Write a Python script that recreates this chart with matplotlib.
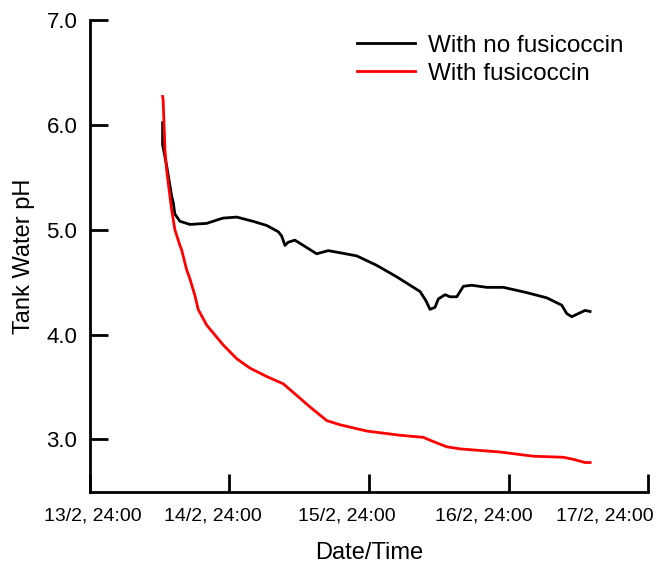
import numpy as np
import matplotlib
matplotlib.use("Agg")
import matplotlib.pyplot as plt

plt.rcParams['font.family'] = ['Liberation Sans', 'DejaVu Sans']

# time in days after 13/2, 24:00
t_no = [0.521, 0.521, 0.550, 0.586, 0.597, 0.609, 0.645, 0.717, 0.837, 0.953,
        1.052, 1.168, 1.267, 1.350, 1.374, 1.398, 1.421, 1.469, 1.529, 1.625,
        1.708, 1.792, 1.912, 2.055, 2.199, 2.366, 2.409, 2.437, 2.473, 2.497,
        2.545, 2.581, 2.629, 2.676, 2.736, 2.844, 2.963, 3.130, 3.274, 3.381,
        3.417, 3.453, 3.500, 3.548, 3.584]
ph_no = [6.02, 5.81, 5.61, 5.32, 5.26, 5.15, 5.08, 5.05, 5.06, 5.11,
         5.12, 5.08, 5.04, 4.98, 4.94, 4.85, 4.88, 4.90, 4.85, 4.77,
         4.80, 4.78, 4.75, 4.66, 4.55, 4.41, 4.32, 4.24, 4.26, 4.34,
         4.38, 4.36, 4.36, 4.46, 4.47, 4.45, 4.45, 4.40, 4.35, 4.28,
         4.20, 4.17, 4.20, 4.23, 4.22]

t_fc = [0.521, 0.525, 0.538, 0.550, 0.561, 0.586, 0.609, 0.645, 0.657, 0.693,
        0.717, 0.753, 0.776, 0.837, 0.956, 1.052, 1.147, 1.267, 1.386, 1.482,
        1.577, 1.697, 1.792, 1.984, 2.222, 2.389, 2.461, 2.557, 2.652, 2.939,
        3.178, 3.393, 3.465, 3.548, 3.584]
ph_fc = [6.27, 6.24, 5.76, 5.57, 5.45, 5.19, 5.00, 4.85, 4.81, 4.62,
         4.53, 4.37, 4.24, 4.09, 3.90, 3.77, 3.68, 3.60, 3.53, 3.42,
         3.31, 3.18, 3.14, 3.08, 3.04, 3.02, 2.98, 2.93, 2.91, 2.88,
         2.84, 2.83, 2.81, 2.78, 2.78]

x_ticks = [0, 1, 2, 3, 4]
x_label_pos = [0.02, 0.88, 1.84, 2.82, 3.69]
x_labels = ["13/2, 24:00", "14/2, 24:00", "15/2, 24:00", "16/2, 24:00", "17/2, 24:00"]
y_ticks = [3.0, 4.0, 5.0, 6.0, 7.0]

fig = plt.figure(figsize=(6.56, 5.68), dpi=100)
ax = fig.add_axes([0.137, 0.134, 0.851, 0.831])

ax.plot(t_no, ph_no, color="black", lw=2, label="With no fusicoccin")
ax.plot(t_fc, ph_fc, color="#ff0000", lw=2, label="With fusicoccin")

ax.set_xlim(0, 4)
ax.set_ylim(2.5, 7.0)

ax.set_xticks(x_ticks)
ax.set_xticklabels([])
ax.set_xticks(x_label_pos, x_labels, minor=True)
ax.tick_params(axis="x", which="major", direction="in", length=13, width=2)
ax.tick_params(axis="x", which="minor", length=0, pad=11, labelsize=14)

ax.set_yticks(y_ticks, [f"{v:.1f}" for v in y_ticks])
ax.tick_params(axis="y", direction="in", length=13, width=2, pad=9, labelsize=16)

for s in ["top", "right"]:
    ax.spines[s].set_visible(False)
for s in ["left", "bottom"]:
    ax.spines[s].set_linewidth(2)

ax.set_xlabel("Date/Time", fontsize=17, labelpad=13)
ax.set_ylabel("Tank Water pH", fontsize=17, labelpad=8)

ax.legend(loc="upper right", bbox_to_anchor=(0.995, 1.015), frameon=False,
          fontsize=17.5, handlelength=2.35, handletextpad=0.55, labelspacing=0.25)

fig.savefig("out.png", dpi=100)
